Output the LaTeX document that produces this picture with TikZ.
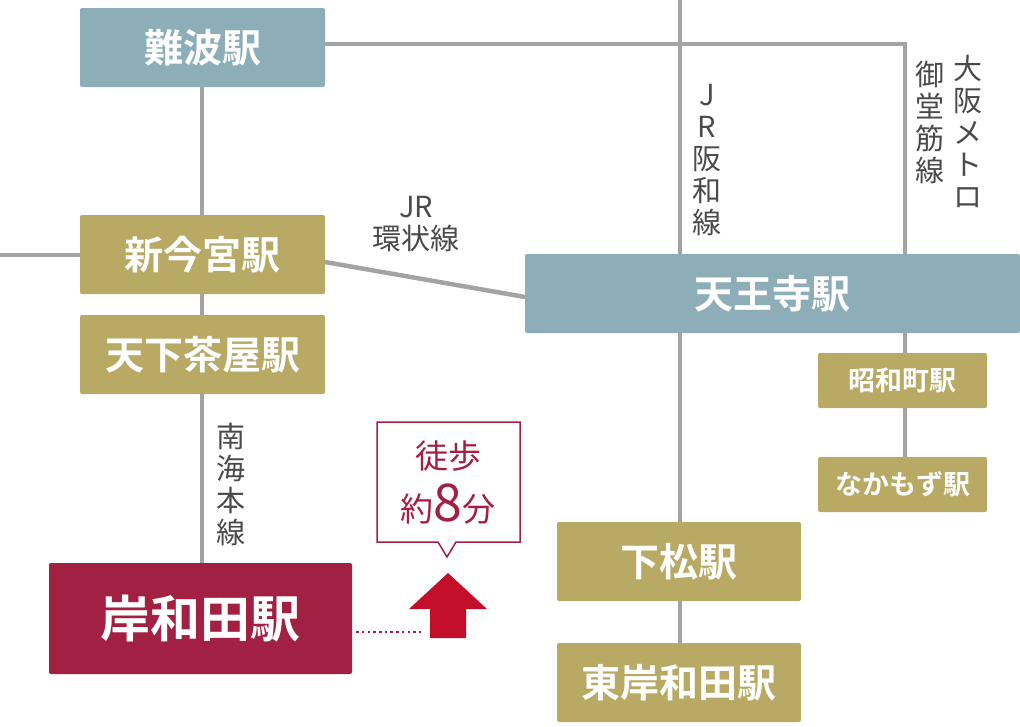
\documentclass[tikz,border=0pt]{standalone}
\usepackage{fontspec}
\newfontfamily\jp{Noto Sans CJK JP}[BoldFont={Noto Sans CJK JP Bold}]
\definecolor{teal}{HTML}{8DAEB8}
\definecolor{olive}{HTML}{B8A964}
\definecolor{crim}{HTML}{A22142}
\definecolor{redar}{HTML}{C40F2A}
\definecolor{lgray}{HTML}{A3A3A3}
\definecolor{tgray}{HTML}{4A4A4A}
\tikzset{
 st/.style={draw=none,rounded corners=2pt,text=white,font=\jp\bfseries,inner sep=0pt},
 big/.style={font=\jp\bfseries\fontsize{39}{42}\selectfont},
 sml/.style={font=\jp\bfseries\fontsize{27}{30}\selectfont},
 rl/.style={lgray,line width=4.5pt},
 lab/.style={text=tgray,font=\jp\fontsize{29}{32}\selectfont,align=center,inner sep=0pt}
}
\begin{document}
\begin{tikzpicture}[x=1pt,y=-1pt]
\useasboundingbox (0,0) rectangle (1020,726);
% lines
\coordinate (w) at (0,255);
\coordinate (nt) at (680,0);
\draw[rl] (202,87) -- (202,563);
\draw[rl] (w) -- (80,255);
\draw[rl] (325,44) -- (905,44) -- (905,457);
\draw[rl] (325,262) -- (525,297);
\draw[rl] (nt) -- (680,643);
% stations
\node[st,fill=teal,minimum width=245pt,minimum height=79pt,big] (nb) at (202.5,47.5) {難波駅};
\node[st,fill=olive,minimum width=245pt,minimum height=79pt,big] (sim) at (202.5,254.5) {新今宮駅};
\node[st,fill=olive,minimum width=245pt,minimum height=79pt,big] (tg) at (202.5,354.5) {天下茶屋駅};
\node[st,fill=crim,minimum width=303pt,minimum height=111pt,font=\jp\bfseries\fontsize{50}{54}\selectfont] (kw) at (200.5,618.5) {岸和田駅};
\node[st,fill=teal,minimum width=495pt,minimum height=79pt,big] (tn) at (772.5,293.5) {天王寺駅};
\node[st,fill=olive,minimum width=169pt,minimum height=55pt,sml] (sw) at (902.5,380.5) {昭和町駅};
\node[st,fill=olive,minimum width=169pt,minimum height=55pt,sml] (nk) at (902.5,484.5) {なかもず駅};
\node[st,fill=olive,minimum width=244pt,minimum height=79pt,big] (sm) at (679,561.5) {下松駅};
\node[st,fill=olive,minimum width=244pt,minimum height=79pt,big] (hk) at (679,682.5) {東岸和田駅};
% labels
\node[lab] (l1) at (416,224) {JR\\環状線};
\node[lab,align=center] (l2) at (707,160) {J\\R\\阪\\和\\線};
\node[lab] (l3) at (968,131) {大\\阪\\メ\\ト\\ロ};
\node[lab] (l4) at (930,122) {御\\堂\\筋\\線};
\node[lab] (l5) at (231,484) {南\\海\\本\\線};
% callout
\draw[crim,line width=1.5pt,fill=white] (377,422) -- (520,422) -- (520,542) -- (456,542) -- (447,557) -- (438,542) -- (377,542) -- cycle;
\node[text=crim,font=\jp\fontsize{33}{36}\selectfont,inner sep=0pt] (c1) at (448,456) {徒歩};
\node[text=crim,font=\jp\fontsize{33}{36}\selectfont,inner sep=0pt] (c2) at (448,504) {約\fontsize{52}{52}\selectfont 8\fontsize{33}{36}\selectfont 分};
% arrow
\fill[redar] (430,638) -- (466,638) -- (466,609) -- (487,609) -- (448,573) -- (409,609) -- (430,609) -- cycle;
\coordinate (de) at (421,632);
\draw[crim,line width=2.5pt,dash pattern=on 2.5pt off 3.2pt] (kw.east|-de) ++(4,0) -- (de);
\end{tikzpicture}
\end{document}
